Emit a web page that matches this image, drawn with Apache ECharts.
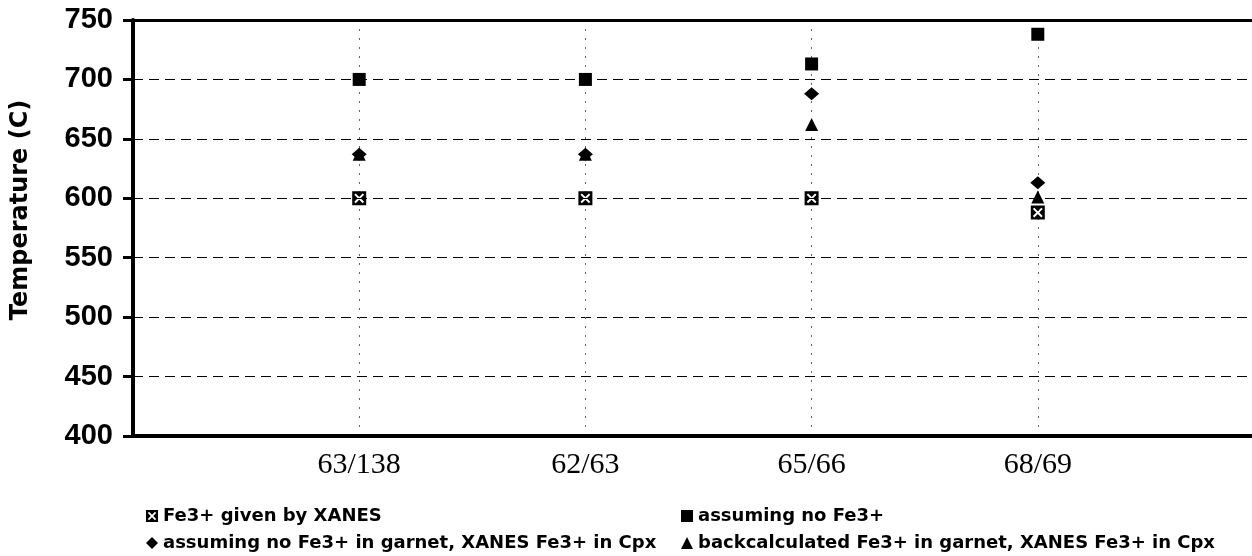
<!DOCTYPE html>
<html>
<head>
<meta charset="utf-8">
<script src="https://cdn.jsdelivr.net/npm/echarts@6/dist/echarts.min.js"></script>
<style>
html,body{margin:0;padding:0;background:#fff;}
#chart{width:1252px;height:556px;}
</style>
</head>
<body>
<div id="chart"></div>
<script>
const categories = ['63/138', '62/63', '65/66', '68/69'];
const xanes = [600, 600, 600, 588];
const noFe3 = [700, 700, 713, 738];
const noFe3Garnet = [637, 637, 688, 613];
const backcalc = [637, 637, 662, 601];
const yTicks = [400, 450, 500, 550, 600, 650, 700, 750];

const names = [
  'Fe3+ given by XANES',
  'assuming no Fe3+',
  'assuming no Fe3+ in garnet, XANES Fe3+ in Cpx',
  'backcalculated Fe3+ in garnet, XANES Fe3+ in Cpx'
];

const xBox = 'path://M0 0L20 0L20 20L0 20ZM3 5L8 10L3 15L5 17L10 12L15 17L17 15L12 10L17 5L15 3L10 8L5 3Z';

function pts(arr) { return arr.map((v, i) => [i + 1, v]); }

const chart = echarts.init(document.getElementById('chart'));
const legendText = { color: '#000', fontFamily: 'DejaVu Sans', fontWeight: 'bold', fontSize: 18 };
function leg(name, left, top) {
  return { left: left, top: top, orient: 'horizontal', itemWidth: 12, itemHeight: 12, itemGap: 4,
    data: [name], textStyle: legendText, padding: 0 };
}
chart.setOption({
  animation: false,
  backgroundColor: '#fff',
  grid: { left: 133, top: 20, right: -12, bottom: 120, outerBoundsMode: 'none', containLabel: false },
  xAxis: [{
    type: 'value', min: 0, max: 5, interval: 1,
    axisLine: { show: true, lineStyle: { color: '#000', width: 4 } },
    axisTick: { show: false },
    splitLine: { show: true, lineStyle: { color: '#666', width: 1, type: [2, 7] } },
    axisLabel: {
      color: '#000', fontFamily: 'Liberation Serif', fontSize: 30, margin: 14,
      formatter: v => categories[v - 1] || ''
    }
  }, {
    type: 'value', position: 'top', min: 0, max: 5, interval: 1,
    axisLine: { show: true, onZero: false, lineStyle: { color: '#000', width: 3 } },
    axisTick: { show: false }, axisLabel: { show: false }, splitLine: { show: false }
  }],
  yAxis: {
    type: 'value', min: yTicks[0], max: yTicks[yTicks.length - 1], interval: 50,
    name: 'Temperature (C)', nameLocation: 'middle', nameGap: 100,
    nameTextStyle: { color: '#000', fontFamily: 'DejaVu Sans', fontWeight: 'bold', fontSize: 24, padding: [0, 0, 0, 36] },
    axisLine: { show: true, lineStyle: { color: '#000', width: 4 } },
    axisTick: { show: true, length: 10, lineStyle: { color: '#000', width: 3 } },
    splitLine: { show: true, lineStyle: { color: '#000', width: 1.2, type: [10, 6] } },
    axisLabel: { color: '#000', fontFamily: 'Liberation Sans', fontWeight: 'bold', fontSize: 29, margin: 20 }
  },
  legend: [
    leg(names[0], 146, 507),
    leg(names[2], 146, 534),
    leg(names[1], 681, 507),
    leg(names[3], 681, 534)
  ],
  series: [
    { name: names[0], type: 'scatter', data: pts(xanes), symbol: xBox, symbolSize: 14,
      itemStyle: { color: '#000', opacity: 1 }, z: 5 },
    { name: names[1], type: 'scatter', data: pts(noFe3), symbol: 'rect', symbolSize: 13,
      itemStyle: { color: '#000', opacity: 1 }, z: 5 },
    { name: names[2], type: 'scatter', data: pts(noFe3Garnet), symbol: 'diamond', symbolSize: [15, 13],
      itemStyle: { color: '#000', opacity: 1 }, z: 5 },
    { name: names[3], type: 'scatter', data: pts(backcalc), symbol: 'triangle', symbolSize: 13,
      itemStyle: { color: '#000', opacity: 1 }, z: 5 }
  ]
});
</script>
</body>
</html>
